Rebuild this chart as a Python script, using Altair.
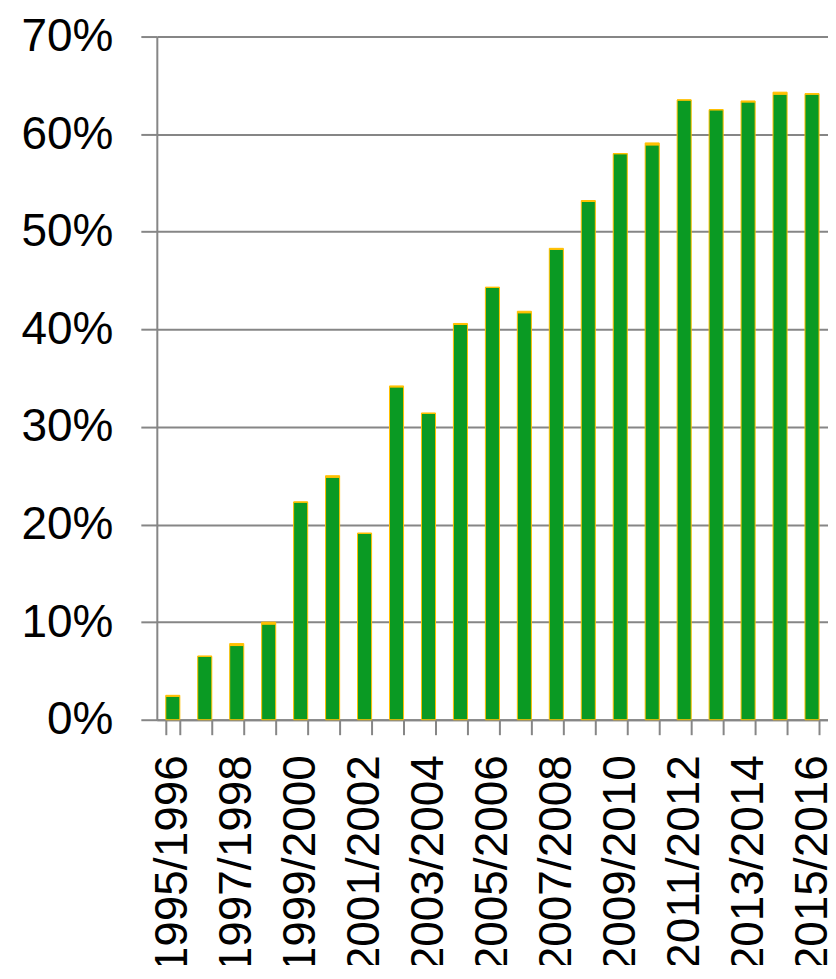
import altair as alt
import pandas as pd

seasons = [f"{y}/{y+1}" for y in range(1995, 2016)]
green_vals = [2.4, 6.5, 7.6, 9.8, 22.3, 24.85, 19.1, 34.1, 31.4, 40.5, 44.3, 41.7, 48.2, 53.1, 58.0, 58.9, 63.5, 62.5, 63.3, 64.1, 64.1]
orange_vals = [0.1, 0.0, 0.2, 0.2, 0.0, 0.15, 0.0, 0.1, 0.0, 0.1, 0.0, 0.15, 0.1, 0.1, 0.0, 0.2, 0.0, 0.0, 0.1, 0.2, 0.05]

rows = []
for s, g, o in zip(seasons, green_vals, orange_vals):
    rows.append({"season": s, "series": "A", "ord": 0, "value": g / 100})
    rows.append({"season": s, "series": "B", "ord": 1, "value": o / 100})
df = pd.DataFrame(rows)

GRAY = "#868686"
GREEN = "#0A9A23"
ORANGE = "#FFC000"
FONT = "Liberation Sans"

chart = alt.Chart(df).mark_bar(stroke=ORANGE, strokeWidth=1).encode(
    x=alt.X(
        "season:N",
        sort=seasons,
        title=None,
        scale=alt.Scale(paddingInner=0.56, paddingOuter=0.28),
        axis=alt.Axis(
            labelAngle=-90,
            labelFontSize=46,
            labelFont=FONT,
            labelColor="black",
            labelPadding=20,
            labelLimit=1000,
            labelExpr="parseInt(substring(datum.label,0,4)) % 2 == 1 ? datum.label : ''",
            tickBand="extent",
            tickSize=15,
            tickColor=GRAY,
            tickWidth=2,
            domainColor=GRAY,
            domainWidth=2,
            grid=False,
            labelOverlap=False,
        ),
    ),
    y=alt.Y(
        "value:Q",
        stack="zero",
        title=None,
        scale=alt.Scale(domain=[0, 0.7], nice=False),
        axis=alt.Axis(
            format=".0%",
            values=[0, 0.1, 0.2, 0.3, 0.4, 0.5, 0.6, 0.7],
            labelFontSize=46,
            labelFont=FONT,
            labelColor="black",
            labelPadding=28,
            tickSize=16,
            tickColor=GRAY,
            tickWidth=2,
            domainColor=GRAY,
            domainWidth=2,
            grid=True,
            gridColor=GRAY,
            gridWidth=2,
        ),
    ),
    color=alt.Color(
        "series:N",
        scale=alt.Scale(domain=["A", "B"], range=[GREEN, ORANGE]),
        legend=None,
    ),
    order=alt.Order("ord:Q", sort="ascending"),
).properties(
    width=672,
    height=684,
    autosize=alt.AutoSizeParams(type="none"),
    padding={"left": 149, "top": 28, "right": 0, "bottom": 245},
).configure_view(stroke=None)

chart.save("out.html", embed_options={"renderer": "svg", "actions": False})
